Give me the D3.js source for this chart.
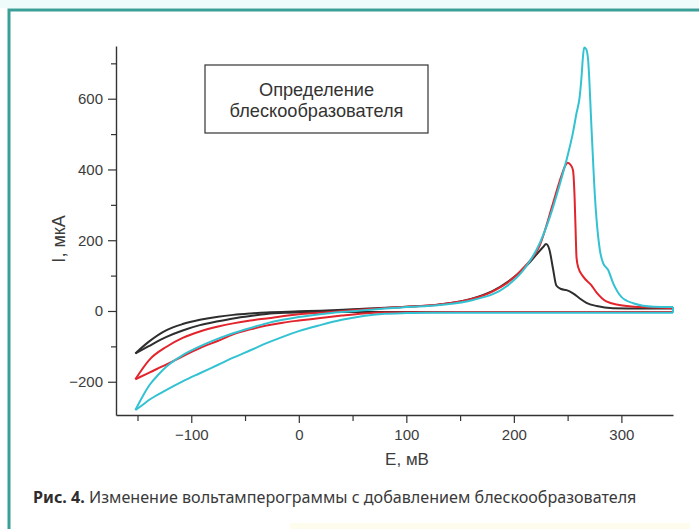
<!DOCTYPE html>
<html>
<head>
<meta charset="utf-8">
<script src="https://cdn.jsdelivr.net/npm/d3@7"></script>
<style>
  html, body { margin: 0; padding: 0; background: #fff; }
  svg { display: block; }
</style>
</head>
<body>
<svg id="chart" width="699" height="529"></svg>
<script>
// Axis ticks
const potentialTicks = [-100, 0, 100, 200, 300];
const potentialMinorTicks = [-150, -50, 50, 150, 250];
const currentTicks = [-200, 0, 200, 400, 600];
const currentMinorTicks = [-100, 100, 300, 500, 700];

// Cyclic voltammograms: [E, mV ; I, µA], anodic (forward) and cathodic (reverse) branches
const blackForward = [[-152,-120],[-140,-88],[-123,-54],[-108,-37],[-92,-25],[-75,-16],[-61,-11],[-45,-7],[-30,-4],[0,-1],[20,1],[50,5],[100,12],[130,18],[160,34],[180,56],[195,84],[205,108],[215,138],[222,163],[227,180],[230,189],[233,174],[236.5,118],[239.5,72],[244,62],[249,59],[255,50],[261,36],[267.5,23],[277,14],[292,8],[320,7],[348,7]];
const blackReverse = [[-152,-120],[-140,-100],[-123,-73],[-108,-55],[-92,-40],[-75,-29],[-61,-21],[-45,-14],[-30,-8.5],[-10,-5],[20,-3],[100,-3],[200,-3],[348,-3]];

const redForward = [[-152,-193],[-139,-138],[-123,-101],[-108,-76],[-92,-58],[-75,-44],[-61,-35],[-45,-27],[-30,-21],[0,-9],[20,-5],[50,2],[100,12],[130,18],[160,33],[180,55],[195,82],[210,125],[224,185],[236,300],[244,380],[248,412],[250,419],[253,412],[255,398],[256.5,320],[257.5,220],[258.3,150],[260,122],[264.5,97],[272,73],[277,52],[286,27],[298,17],[317,11],[348,8]];
const redReverse = [[-152,-193],[-139,-174],[-123,-151],[-108,-128],[-92,-105],[-75,-84],[-61,-66],[-45,-52],[-30,-41],[-15,-33],[0,-27],[20,-20],[40,-13],[60,-7],[80,-4],[150,-3],[348,-3]];

const cyanForward = [[-152,-280],[-145,-240],[-139,-210],[-130,-178],[-123,-157],[-108,-125],[-92,-100],[-75,-78],[-61,-63],[-45,-48],[-30,-35],[-15,-25],[0,-17],[20,-9],[40,-3],[60,2],[80,7],[100,11],[131,17],[162,31],[193,69],[209,116],[224,191],[233.5,266],[243,361],[250.5,445],[255,505],[258,555],[261.4,610],[263,665],[264.3,720],[265.4,745],[267.3,740],[269,712],[272.3,511],[275.4,323],[278.4,210],[280,172],[283,135],[287.7,116],[292.4,78],[300,40],[311,22],[330,12],[348,11]];
const cyanReverse = [[-152,-280],[-145,-265],[-139,-251],[-123,-223],[-108,-199],[-92,-176],[-75,-152],[-61,-132],[-45,-111],[-30,-91],[-15,-73],[0,-57],[20,-40],[40,-25],[60,-14],[80,-8],[100,-6],[120,-5],[348,-5]];

const seriesColors = { black: "#2e2e2e", red: "#e2242c", cyan: "#33c2d2" };

const legendLines = ["Определение", "блескообразователя"];
const xTitle = "Е, мВ";
const yTitle = "I, мкА";
const captionBold = "Рис. 4.";
const captionText = " Изменение вольтамперограммы с добавлением блескообразователя";

const svg = d3.select("#chart");

// Page frame
svg.append("rect").attr("x", 0).attr("y", 0).attr("width", 699).attr("height", 8).attr("fill", "#effafa");
svg.append("rect").attr("x", 290).attr("y", 523).attr("width", 400).attr("height", 6).attr("fill", "#fefcec");
svg.append("path")
  .attr("d", "M9,529 L9,10 L699,10")
  .attr("fill", "none").attr("stroke", "#3a9f97").attr("stroke-width", 3);

const x = d3.scaleLinear().domain([-170, 348]).range([116, 673]);
const y = d3.scaleLinear().domain([-294, 749]).range([415, 46]);

const axisColor = "#333";
const tickFont = "Liberation Sans, Arial, sans-serif";

function styleAxis(g) {
  g.selectAll("path.domain").attr("stroke", axisColor).attr("stroke-width", 1.4);
  g.selectAll(".tick line").attr("stroke", axisColor).attr("stroke-width", 1.2);
  g.selectAll(".tick text").attr("fill", "#3c3c3c").attr("font-family", tickFont).attr("font-size", 15);
}

// Minor ticks
svg.append("g").attr("transform", `translate(0,${y.range()[0]})`)
  .call(d3.axisBottom(x).tickValues(potentialMinorTicks).tickFormat("").tickSize(6).tickSizeOuter(0))
  .call(g => g.select("path.domain").remove())
  .call(styleAxis);
svg.append("g").attr("transform", `translate(${x.range()[0]},0)`)
  .call(d3.axisLeft(y).tickValues(currentMinorTicks).tickFormat("").tickSize(5).tickSizeOuter(0))
  .call(g => g.select("path.domain").remove())
  .call(styleAxis);

// Major axes
svg.append("g").attr("transform", `translate(0,${y.range()[0]})`)
  .call(d3.axisBottom(x).tickValues(potentialTicks).tickFormat(d3.format("")).tickSize(8).tickSizeOuter(0).tickPadding(6))
  .call(styleAxis);
svg.append("g").attr("transform", `translate(${x.range()[0]},0)`)
  .call(d3.axisLeft(y).tickValues(currentTicks).tickFormat(d3.format("")).tickSize(8).tickSizeOuter(0).tickPadding(5))
  .call(styleAxis);

// Axis titles
svg.append("text")
  .attr("x", 407).attr("y", 465)
  .attr("text-anchor", "middle")
  .attr("font-family", tickFont).attr("font-size", 17).attr("fill", "#3c3c3c")
  .text(xTitle);
svg.append("text")
  .attr("transform", "translate(65,239) rotate(-90)")
  .attr("text-anchor", "middle")
  .attr("font-family", tickFont).attr("font-size", 18).attr("fill", "#3c3c3c")
  .text(yTitle);

// Curves
const line = d3.line().x(d => x(d[0])).y(d => y(d[1])).curve(d3.curveMonotoneX);
const curves = [
  { key: "black", branches: [blackForward, blackReverse] },
  { key: "red", branches: [redForward, redReverse] },
  { key: "cyan", branches: [cyanForward, cyanReverse] }
];
const plot = svg.append("g");
curves.forEach(c => {
  c.branches.forEach(b => {
    plot.append("path")
      .datum(b)
      .attr("d", line)
      .attr("fill", "none")
      .attr("stroke", seriesColors[c.key])
      .attr("stroke-width", 2)
      .attr("stroke-linejoin", "round");
  });
  // closing segment at the switching potential
  const f = c.branches[0][c.branches[0].length - 1];
  const r = c.branches[1][c.branches[1].length - 1];
  plot.append("line")
    .attr("x1", x(f[0])).attr("y1", y(f[1]))
    .attr("x2", x(r[0])).attr("y2", y(r[1]))
    .attr("stroke", seriesColors[c.key]).attr("stroke-width", 2);
});

// Legend box
svg.append("rect")
  .attr("x", 205).attr("y", 65).attr("width", 223).attr("height", 68)
  .attr("fill", "#fff").attr("stroke", "#333").attr("stroke-width", 1.2);
svg.selectAll("text.legend")
  .data(legendLines)
  .join("text")
  .attr("class", "legend")
  .attr("x", 316.5)
  .attr("y", (d, i) => 96 + i * 21)
  .attr("text-anchor", "middle")
  .attr("font-family", tickFont).attr("font-size", 18.2).attr("fill", "#333")
  .text(d => d);

// Caption, sized to span the text column
const cap = svg.append("text")
  .attr("x", 33).attr("y", 503)
  .attr("font-family", "Noto Sans, Open Sans, sans-serif")
  .attr("font-size", 16).attr("fill", "#3a3a3a");
cap.append("tspan").attr("font-weight", "bold").attr("fill", "#2d2d2d").text(captionBold);
cap.append("tspan").text(captionText);
const capWidth = cap.node().getComputedTextLength();
cap.attr("font-size", 16 * 604 / capWidth);
</script>
</body>
</html>
